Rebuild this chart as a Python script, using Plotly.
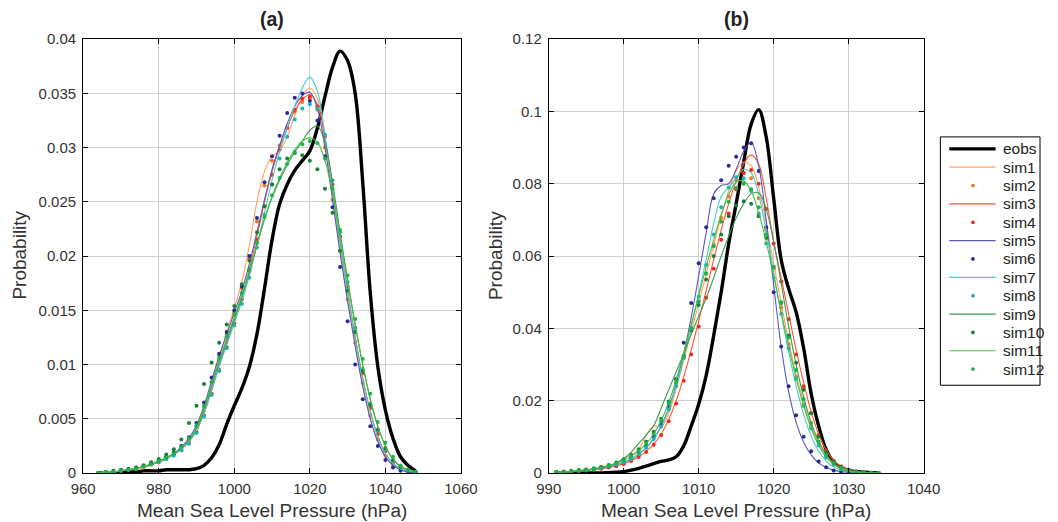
import plotly.graph_objects as go

# ---------------- Panel (a) data ----------------
xa = list(range(964, 1049, 2))
a_eobs = [0.0000,0.0000,0.0000,0.0000,0.0001,0.0001,0.0002,0.0002,0.0002,0.0003,0.0003,0.0003,0.0003,0.0004,
          0.0007,0.0014,0.0026,0.0045,0.0062,0.0078,0.0098,0.0128,0.0170,0.0215,0.0248,0.0266,0.0279,0.0288,
          0.0297,0.0318,0.0347,0.0374,0.0389,0.0380,0.0350,0.0268,0.0166,0.0098,0.0058,0.0032,0.0015,0.0007,0.0002]
a_sim1 = [0.0000,0.0001,0.0001,0.0002,0.0003,0.0004,0.0005,0.0007,0.0010,0.0013,0.0017,0.0022,0.0029,0.0040,
          0.0057,0.0080,0.0106,0.0130,0.0152,0.0176,0.0210,0.0250,0.0278,0.0292,0.0297,0.0310,0.0330,0.0348,
          0.0355,0.0345,0.0308,0.0255,0.0205,0.0160,0.0118,0.0080,0.0050,0.0029,0.0015,0.0007,0.0003,0.0001,0.0000]
a_sim2 = [0.0000,0.0001,0.0001,0.0002,0.0003,0.0004,0.0006,0.0008,0.0011,0.0014,0.0018,0.0023,0.0031,0.0043,
          0.0061,0.0084,0.0108,0.0128,0.0148,0.0170,0.0198,0.0232,0.0265,0.0288,0.0302,0.0318,0.0333,0.0342,
          0.0345,0.0335,0.0300,0.0252,0.0205,0.0160,0.0120,0.0083,0.0053,0.0031,0.0016,0.0008,0.0004,0.0002,0.0001]
a_sim3 = [0.0000,0.0001,0.0001,0.0002,0.0003,0.0004,0.0006,0.0008,0.0010,0.0013,0.0017,0.0022,0.0029,0.0039,
          0.0055,0.0076,0.0099,0.0120,0.0141,0.0162,0.0188,0.0218,0.0250,0.0278,0.0300,0.0318,0.0334,0.0344,
          0.0349,0.0340,0.0308,0.0262,0.0213,0.0168,0.0126,0.0088,0.0057,0.0034,0.0018,0.0009,0.0004,0.0002,0.0001]
a_sim4 = [0.0000,0.0001,0.0001,0.0002,0.0003,0.0004,0.0006,0.0008,0.0010,0.0013,0.0017,0.0021,0.0028,0.0038,
          0.0053,0.0073,0.0095,0.0116,0.0138,0.0160,0.0186,0.0215,0.0246,0.0275,0.0298,0.0318,0.0335,0.0345,
          0.0347,0.0338,0.0310,0.0266,0.0218,0.0172,0.0130,0.0092,0.0060,0.0036,0.0020,0.0010,0.0005,0.0002,0.0001]
a_sim5 = [0.0000,0.0001,0.0001,0.0002,0.0003,0.0004,0.0006,0.0008,0.0011,0.0014,0.0018,0.0024,0.0032,0.0044,
          0.0062,0.0085,0.0108,0.0128,0.0148,0.0168,0.0193,0.0222,0.0252,0.0280,0.0302,0.0322,0.0338,0.0348,
          0.0351,0.0336,0.0300,0.0252,0.0203,0.0158,0.0117,0.0080,0.0050,0.0029,0.0015,0.0007,0.0003,0.0001,0.0000]
a_sim6 = [0.0000,0.0001,0.0001,0.0002,0.0003,0.0005,0.0007,0.0009,0.0012,0.0015,0.0019,0.0025,0.0033,0.0046,
          0.0065,0.0088,0.0110,0.0130,0.0150,0.0172,0.0200,0.0235,0.0268,0.0292,0.0311,0.0332,0.0346,0.0350,
          0.0343,0.0325,0.0292,0.0245,0.0190,0.0140,0.0100,0.0068,0.0043,0.0025,0.0012,0.0005,0.0002,0.0001,0.0000]
a_sim7 = [0.0000,0.0001,0.0001,0.0002,0.0003,0.0004,0.0006,0.0008,0.0010,0.0013,0.0017,0.0022,0.0029,0.0039,
          0.0055,0.0076,0.0098,0.0118,0.0138,0.0158,0.0182,0.0210,0.0240,0.0270,0.0296,0.0318,0.0338,0.0355,
          0.0365,0.0352,0.0312,0.0262,0.0212,0.0166,0.0124,0.0086,0.0056,0.0033,0.0018,0.0009,0.0004,0.0002,0.0001]
a_sim8 = [0.0000,0.0001,0.0001,0.0002,0.0003,0.0004,0.0006,0.0008,0.0010,0.0013,0.0016,0.0021,0.0027,0.0037,
          0.0052,0.0072,0.0094,0.0115,0.0136,0.0156,0.0180,0.0208,0.0238,0.0266,0.0290,0.0310,0.0326,0.0336,
          0.0340,0.0336,0.0312,0.0270,0.0222,0.0176,0.0134,0.0096,0.0064,0.0039,0.0022,0.0011,0.0005,0.0002,0.0001]
a_sim9 = [0.0000,0.0001,0.0001,0.0002,0.0003,0.0004,0.0006,0.0008,0.0011,0.0014,0.0018,0.0023,0.0030,0.0041,
          0.0058,0.0080,0.0102,0.0122,0.0142,0.0162,0.0185,0.0210,0.0234,0.0254,0.0270,0.0284,0.0296,0.0306,
          0.0316,0.0320,0.0305,0.0268,0.0222,0.0178,0.0137,0.0100,0.0068,0.0043,0.0025,0.0013,0.0006,0.0003,0.0001]
a_sim10 = [0.0000,0.0001,0.0002,0.0003,0.0004,0.0005,0.0007,0.0010,0.0013,0.0017,0.0022,0.0031,0.0046,0.0062,
           0.0082,0.0102,0.0120,0.0137,0.0154,0.0174,0.0196,0.0222,0.0246,0.0266,0.0280,0.0290,0.0295,0.0293,
           0.0288,0.0280,0.0262,0.0240,0.0205,0.0168,0.0130,0.0094,0.0063,0.0040,0.0023,0.0012,0.0006,0.0003,0.0001]
a_sim11 = [0.0000,0.0001,0.0001,0.0002,0.0003,0.0004,0.0006,0.0008,0.0011,0.0014,0.0018,0.0023,0.0030,0.0042,
           0.0060,0.0082,0.0104,0.0124,0.0144,0.0164,0.0186,0.0210,0.0234,0.0255,0.0272,0.0286,0.0298,0.0306,
           0.0309,0.0305,0.0288,0.0258,0.0218,0.0176,0.0136,0.0100,0.0068,0.0043,0.0025,0.0013,0.0006,0.0003,0.0001]
a_sim12 = [0.0000,0.0001,0.0001,0.0002,0.0003,0.0004,0.0006,0.0008,0.0011,0.0014,0.0018,0.0024,0.0032,0.0044,
           0.0062,0.0084,0.0106,0.0126,0.0146,0.0166,0.0188,0.0212,0.0236,0.0256,0.0272,0.0285,0.0296,0.0303,
           0.0306,0.0304,0.0290,0.0262,0.0224,0.0182,0.0142,0.0105,0.0073,0.0047,0.0028,0.0015,0.0007,0.0003,0.0001]

# ---------------- Panel (b) data ----------------
xb = list(range(991, 1035, 1))
b_eobs = [0,0,0,0,0,0,0,0.0001,0.0002,0.0004,0.0008,0.0013,0.0019,0.0026,0.0032,0.0036,0.0045,0.0075,0.0130,
          0.0190,0.0270,0.0380,0.0500,0.0634,0.0745,0.0860,0.0965,0.1005,0.0930,0.0760,0.0590,0.0510,0.0445,
          0.0345,0.0220,0.0130,0.0065,0.0030,0.0015,0.0007,0.0004,0.0002,0.0001,0]
b_sim1 = [0.0002,0.0003,0.0004,0.0006,0.0008,0.0011,0.0015,0.0020,0.0028,0.0040,0.0050,0.0065,0.0105,0.0130,
          0.0128,0.0165,0.0235,0.0310,0.0390,0.0470,0.0550,0.0630,0.0710,0.0780,0.0835,0.0860,0.0850,0.0790,
          0.0690,0.0580,0.0470,0.0365,0.0272,0.0195,0.0130,0.0082,0.0048,0.0026,0.0014,0.0007,0.0003,0.0001,0,0]
b_sim2 = [0.0002,0.0003,0.0005,0.0007,0.0009,0.0012,0.0015,0.0019,0.0025,0.0032,0.0042,0.0055,0.0073,0.0098,
          0.0133,0.0182,0.0245,0.0318,0.0396,0.0474,0.0552,0.0632,0.0705,0.0765,0.0810,0.0830,0.0815,0.0760,
          0.0672,0.0565,0.0458,0.0356,0.0266,0.0190,0.0128,0.0080,0.0047,0.0026,0.0014,0.0007,0.0003,0.0001,0,0]
b_sim3 = [0.0001,0.0002,0.0003,0.0005,0.0007,0.0009,0.0012,0.0015,0.0020,0.0026,0.0034,0.0045,0.0060,0.0080,
          0.0108,0.0148,0.0200,0.0265,0.0340,0.0420,0.0505,0.0590,0.0672,0.0745,0.0808,0.0855,0.0880,0.0855,
          0.0760,0.0640,0.0540,0.0440,0.0340,0.0250,0.0170,0.0108,0.0064,0.0035,0.0018,0.0009,0.0004,0.0002,0.0001,0]
b_sim4 = [0.0001,0.0002,0.0003,0.0005,0.0007,0.0009,0.0012,0.0015,0.0019,0.0025,0.0033,0.0044,0.0058,0.0078,
          0.0105,0.0143,0.0192,0.0255,0.0328,0.0405,0.0485,0.0565,0.0645,0.0718,0.0785,0.0830,0.0838,0.0800,
          0.0730,0.0635,0.0530,0.0425,0.0328,0.0240,0.0165,0.0105,0.0062,0.0034,0.0018,0.0009,0.0004,0.0002,0.0001,0]
b_sim5 = [0.0002,0.0003,0.0004,0.0006,0.0008,0.0011,0.0014,0.0018,0.0023,0.0030,0.0039,0.0052,0.0070,0.0095,
          0.0130,0.0180,0.0245,0.0330,0.0430,0.0545,0.0665,0.0772,0.0795,0.0800,0.0840,0.0890,0.0915,0.0850,
          0.0700,0.0520,0.0350,0.0225,0.0140,0.0085,0.0050,0.0028,0.0015,0.0008,0.0004,0.0002,0.0001,0,0,0]
b_sim6 = [0.0002,0.0003,0.0004,0.0006,0.0008,0.0011,0.0014,0.0018,0.0023,0.0030,0.0040,0.0055,0.0075,0.0100,
          0.0135,0.0185,0.0260,0.0360,0.0470,0.0580,0.0680,0.0760,0.0810,0.0850,0.0875,0.0900,0.0912,0.0835,
          0.0680,0.0500,0.0350,0.0240,0.0160,0.0100,0.0060,0.0032,0.0016,0.0007,0.0003,0.0001,0,0,0,0]
b_sim7 = [0.0002,0.0003,0.0004,0.0006,0.0008,0.0011,0.0014,0.0018,0.0023,0.0030,0.0039,0.0052,0.0070,0.0094,
          0.0128,0.0176,0.0240,0.0318,0.0405,0.0495,0.0590,0.0690,0.0765,0.0790,0.0815,0.0840,0.0830,0.0770,
          0.0670,0.0555,0.0440,0.0335,0.0240,0.0162,0.0102,0.0060,0.0033,0.0017,0.0008,0.0004,0.0002,0.0001,0,0]
b_sim8 = [0.0002,0.0003,0.0004,0.0006,0.0008,0.0011,0.0014,0.0018,0.0023,0.0030,0.0039,0.0052,0.0070,0.0094,
          0.0128,0.0176,0.0240,0.0318,0.0402,0.0488,0.0575,0.0660,0.0735,0.0790,0.0818,0.0815,0.0780,0.0718,
          0.0635,0.0540,0.0440,0.0345,0.0260,0.0185,0.0123,0.0076,0.0043,0.0023,0.0012,0.0006,0.0003,0.0001,0,0]
b_sim9 = [0.0002,0.0003,0.0004,0.0006,0.0008,0.0011,0.0015,0.0020,0.0028,0.0040,0.0058,0.0082,0.0105,0.0131,
          0.0180,0.0230,0.0280,0.0330,0.0384,0.0434,0.0484,0.0540,0.0600,0.0655,0.0705,0.0745,0.0772,0.0775,
          0.0730,0.0640,0.0525,0.0405,0.0300,0.0210,0.0140,0.0088,0.0052,0.0028,0.0014,0.0007,0.0003,0.0001,0,0]
b_sim10 = [0.0003,0.0004,0.0006,0.0008,0.0010,0.0013,0.0017,0.0022,0.0029,0.0038,0.0050,0.0066,0.0087,0.0114,
           0.0150,0.0198,0.0258,0.0325,0.0395,0.0465,0.0535,0.0600,0.0660,0.0710,0.0740,0.0752,0.0745,0.0710,
           0.0650,0.0570,0.0470,0.0380,0.0305,0.0230,0.0165,0.0100,0.0058,0.0032,0.0017,0.0009,0.0004,0.0002,0.0001,0]
b_sim11 = [0.0002,0.0003,0.0005,0.0007,0.0009,0.0012,0.0016,0.0021,0.0027,0.0035,0.0046,0.0061,0.0081,0.0108,
           0.0145,0.0195,0.0258,0.0332,0.0410,0.0490,0.0570,0.0645,0.0715,0.0770,0.0805,0.0808,0.0780,0.0720,
           0.0640,0.0545,0.0445,0.0350,0.0262,0.0186,0.0124,0.0077,0.0044,0.0024,0.0012,0.0006,0.0003,0.0001,0,0]
b_sim12 = [0.0002,0.0003,0.0005,0.0007,0.0009,0.0012,0.0016,0.0021,0.0027,0.0035,0.0046,0.0061,0.0081,0.0107,
           0.0143,0.0192,0.0252,0.0322,0.0398,0.0475,0.0552,0.0627,0.0695,0.0750,0.0788,0.0800,0.0785,0.0735,
           0.0660,0.0570,0.0472,0.0375,0.0285,0.0205,0.0138,0.0087,0.0050,0.0027,0.0014,0.0007,0.0003,0.0001,0,0]

legend_names = ["eobs","sim1","sim2","sim3","sim4","sim5","sim6","sim7","sim8","sim9","sim10","sim11","sim12"]
names = legend_names[1:]
colors = ["#FFA060","#F27A20","#FF5533","#F02A1A","#5B55C0","#2A2A9C","#45CCC8","#1FB3B3",
          "#3C9950","#1A7F3A","#45C045","#22B04A"]
dotted = [False, True] * 6
a_sims = [a_sim1,a_sim2,a_sim3,a_sim4,a_sim5,a_sim6,a_sim7,a_sim8,a_sim9,a_sim10,a_sim11,a_sim12]
b_sims = [b_sim1,b_sim2,b_sim3,b_sim4,b_sim5,b_sim6,b_sim7,b_sim8,b_sim9,b_sim10,b_sim11,b_sim12]

fig = go.Figure()

def add_panel(x, eobs, sims, xa_name, ya_name):
    fig.add_trace(go.Scatter(x=x, y=eobs, mode="lines", name="eobs",
                             line=dict(color="black", width=3.4, shape="spline"),
                             xaxis=xa_name, yaxis=ya_name, showlegend=False))
    for nm, col, dt, ys in zip(names, colors, dotted, sims):
        if dt:
            fig.add_trace(go.Scatter(x=x, y=ys, mode="markers", name=nm,
                                     marker=dict(color=col, size=4),
                                     xaxis=xa_name, yaxis=ya_name, showlegend=False))
        else:
            fig.add_trace(go.Scatter(x=x, y=ys, mode="lines", name=nm,
                                     line=dict(color=col, width=1.1, shape="spline"),
                                     xaxis=xa_name, yaxis=ya_name, showlegend=False))

add_panel(xa, a_eobs, a_sims, "x", "y")
add_panel(xb, b_eobs, b_sims, "x2", "y2")

# Page body keeps an 8px margin and the capture is shrunk slightly;
# map target picture pixels back to figure pixels.
W, H = 1058, 522
OFF, SX, SY = 8, 0.985, 0.970
FONT = "Arial, Liberation Sans, Helvetica, sans-serif"

def px_x(p):
    return (p / SX - OFF) / W

def px_y(p):
    return 1 - (p / SY - OFF) / H

axis_common = dict(showline=True, linecolor="black", linewidth=1, mirror="ticks",
                   ticks="inside", ticklen=5, tickcolor="black",
                   showgrid=True, gridcolor="#cfcfcf", gridwidth=1, zeroline=False,
                   tickfont=dict(family=FONT, size=15, color="#333333"))

ya_ticks = [0, 0.005, 0.01, 0.015, 0.02, 0.025, 0.03, 0.035, 0.04]
ya_text = ["0", "0.005", "0.01", "0.015", "0.02", "0.025", "0.03", "0.035", "0.04"]
yb_ticks = [0, 0.02, 0.04, 0.06, 0.08, 0.1, 0.12]
yb_text = ["0", "0.02", "0.04", "0.06", "0.08", "0.1", "0.12"]

annotations = [
    dict(text="<b>(a)</b>", x=px_x((79+462)/2), y=px_y(18), xref="paper", yref="paper",
         xanchor="center", yanchor="middle", showarrow=False,
         font=dict(family=FONT, size=19.5, color="#222222")),
    dict(text="<b>(b)</b>", x=px_x((551+931)/2), y=px_y(18), xref="paper", yref="paper",
         xanchor="center", yanchor="middle", showarrow=False,
         font=dict(family=FONT, size=19.5, color="#222222")),
    dict(text="Mean Sea Level Pressure (hPa)", x=px_x((79+462)/2), y=px_y(511), xref="paper", yref="paper",
         xanchor="center", yanchor="middle", showarrow=False, font=dict(family=FONT, size=19, color="#333333")),
    dict(text="Mean Sea Level Pressure (hPa)", x=px_x((551+931)/2), y=px_y(511), xref="paper", yref="paper",
         xanchor="center", yanchor="middle", showarrow=False, font=dict(family=FONT, size=19, color="#333333")),
    dict(text="Probability", x=px_x(15), y=px_y(255), xref="paper", yref="paper", textangle=-90,
         xanchor="center", yanchor="middle", showarrow=False, font=dict(family=FONT, size=19, color="#333333")),
    dict(text="Probability", x=px_x(497), y=px_y(255), xref="paper", yref="paper", textangle=-90,
         xanchor="center", yanchor="middle", showarrow=False, font=dict(family=FONT, size=19, color="#333333")),
]

# manual legend (box, samples, labels)
shapes = [dict(type="rect", xref="paper", yref="paper", x0=px_x(948), x1=px_x(1049),
               y0=px_y(385), y1=px_y(136), line=dict(color="black", width=1), fillcolor="white", layer="above")]
row0, step = 148.0, 18.4
for i, nm in enumerate(legend_names):
    yc = row0 + step * i
    if i == 0:
        shapes.append(dict(type="line", xref="paper", yref="paper", x0=px_x(957), x1=px_x(1004),
                           y0=px_y(yc), y1=px_y(yc), line=dict(color="black", width=3.4), layer="above"))
    else:
        col = colors[i-1]
        if dotted[i-1]:
            r = 1.9
            shapes.append(dict(type="circle", xref="paper", yref="paper", x0=px_x(981-r), x1=px_x(981+r),
                               y0=px_y(yc+r), y1=px_y(yc-r), line=dict(color=col, width=0),
                               fillcolor=col, layer="above"))
        else:
            shapes.append(dict(type="line", xref="paper", yref="paper", x0=px_x(957), x1=px_x(1004),
                               y0=px_y(yc), y1=px_y(yc), line=dict(color=col, width=1.2), layer="above"))
    annotations.append(dict(text=nm, x=px_x(1009), y=px_y(yc), xref="paper", yref="paper",
                            xanchor="left", yanchor="middle", showarrow=False,
                            font=dict(family=FONT, size=15.5, color="#222222")))

fig.update_layout(
    width=W, height=H,
    margin=dict(l=0, r=0, t=0, b=0),
    paper_bgcolor="white", plot_bgcolor="white",
    showlegend=False,
    xaxis=dict(domain=[px_x(79), px_x(462)], range=[960, 1060], tickvals=[960,980,1000,1020,1040,1060],
               anchor="y", ticklabelstandoff=2, **axis_common),
    yaxis=dict(domain=[px_y(473), px_y(38)], range=[0, 0.04], tickvals=ya_ticks, ticktext=ya_text,
               anchor="x", ticklabelstandoff=3, **axis_common),
    xaxis2=dict(domain=[px_x(551), px_x(931)], range=[990, 1040], tickvals=[990,1000,1010,1020,1030,1040],
                anchor="y2", ticklabelstandoff=2, **axis_common),
    yaxis2=dict(domain=[px_y(473), px_y(38)], range=[0, 0.12], tickvals=yb_ticks, ticktext=yb_text,
                anchor="x2", ticklabelstandoff=3, **axis_common),
    shapes=shapes,
    annotations=annotations,
)

fig.write_html("out.html")
